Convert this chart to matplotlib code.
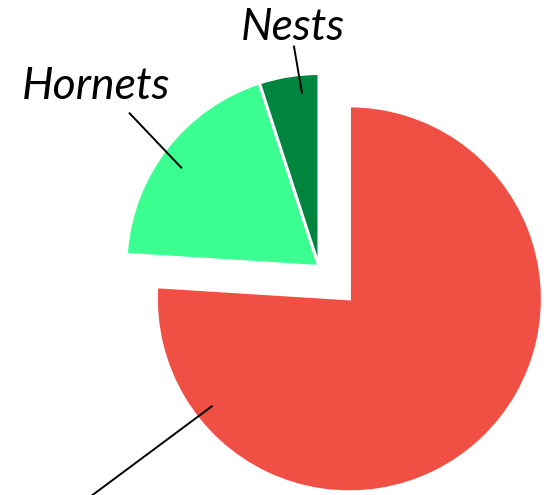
import numpy as np
import matplotlib
matplotlib.use("Agg")
import matplotlib.pyplot as plt

# data
categories = ["", "Hornets", "Nests"]
values = [76, 19, 5]
colors = ["#F04F43", "#3CFF92", "#00853E"]

W, H = 550, 495
fig = plt.figure(figsize=(W / 100, H / 100), dpi=100)
ax = fig.add_axes([0, 0, 1, 1])

center = (319, 228.5)
radius = 193
explode = [0.23 * radius, 0, 0]

wedges, _ = ax.pie(values, colors=colors, startangle=90, counterclock=False,
                   center=center, radius=radius, explode=explode,
                   wedgeprops=dict(edgecolor="white", linewidth=2.2),
                   frame=True)
ax.set_xlim(0, W)
ax.set_ylim(0, H)
ax.set_aspect("equal")
ax.axis("off")

# leader lines: inner (angle, frac) and outer (angle, frac) relative to each wedge centre
leaders = [((218.0, 0.90), (217.3, 1.85)),
           ((144.4, 0.873), (141.0, 1.267)),
           ((95.6, 0.90), (96.5, 1.152))]
text_pos = [None, (96.5, 495 - 99), (293, 495 - 40)]

for w, lab, (inner, outer), tp in zip(wedges, categories, leaders, text_pos):
    cx, cy = w.center
    pts = []
    for ang, f in (inner, outer):
        a = np.deg2rad(ang)
        pts.append((cx + f * radius * np.cos(a), cy + f * radius * np.sin(a)))
    ax.plot([pts[0][0], pts[1][0]], [pts[0][1], pts[1][1]], color="black", lw=1.4,
            solid_capstyle="butt", clip_on=False)
    if lab and tp is not None:
        ax.text(tp[0], tp[1], lab, ha="center", va="baseline",
                fontsize=32, fontstyle="italic", family="Lato", color="black")

fig.savefig("out.png", dpi=100)
